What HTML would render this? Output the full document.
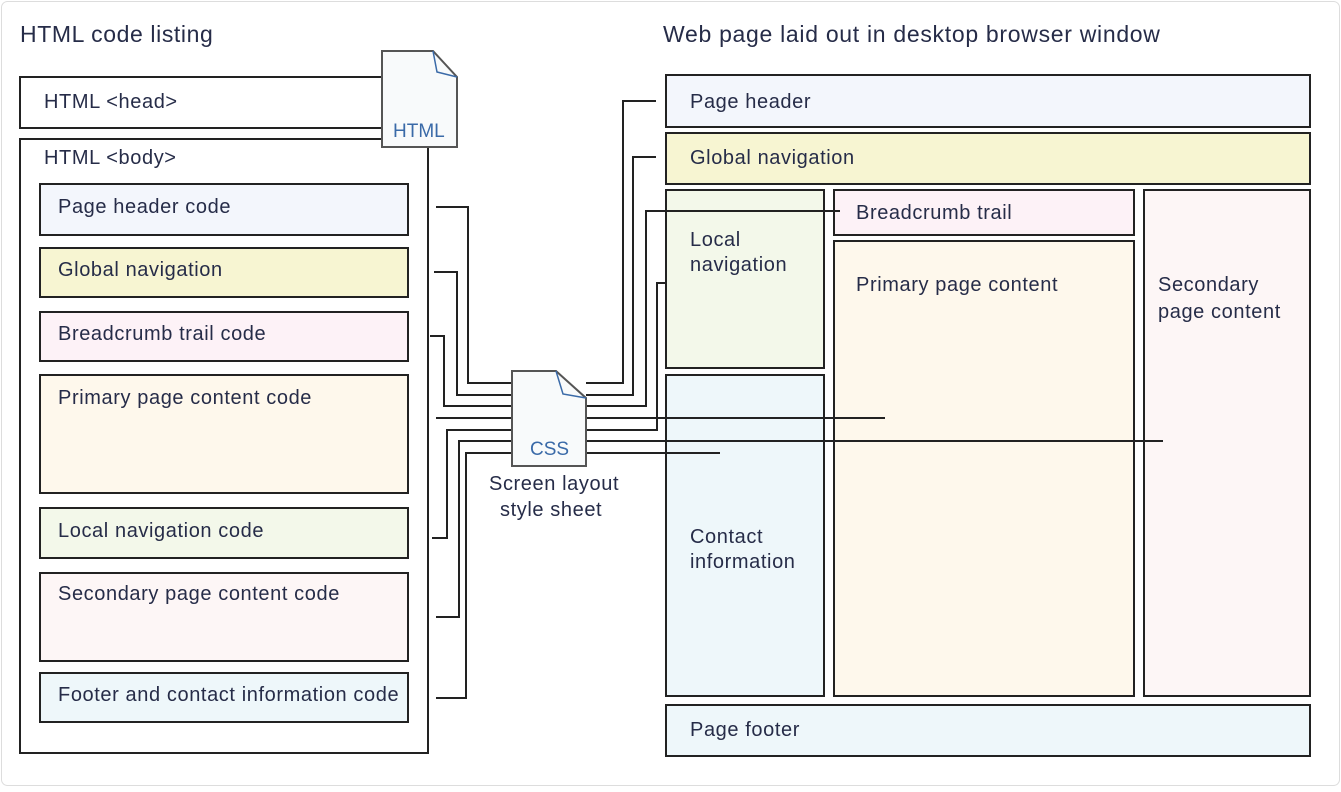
<!DOCTYPE html>
<html><head><meta charset="utf-8"><style>
body{margin:0;background:#fff}
svg text{font-family:"Liberation Sans",sans-serif;font-size:20px;letter-spacing:0.6px;fill:#262c48}
</style></head><body>
<svg width="1341" height="787" viewBox="0 0 1341 787" xmlns="http://www.w3.org/2000/svg">
<rect x="1.5" y="1.5" width="1338" height="784" rx="6" fill="#fff" stroke="#ddd"/>
<text x="20" y="42" style="font-size:23px;letter-spacing:0.6px">HTML code listing</text>
<text x="663" y="42" style="font-size:23px;letter-spacing:0.7px">Web page laid out in desktop browser window</text>
<g stroke="#222" stroke-width="2">
<rect x="20" y="77" width="380" height="51" fill="#fff"/>
<rect x="20" y="139" width="408" height="614" fill="#fff"/>
<rect x="40" y="184" width="368" height="51" fill="#f3f6fc"/>
<rect x="40" y="248" width="368" height="49" fill="#f7f5d2"/>
<rect x="40" y="312" width="368" height="49" fill="#fdf2f7"/>
<rect x="40" y="375" width="368" height="118" fill="#fef8ec"/>
<rect x="40" y="508" width="368" height="50" fill="#f3f8ea"/>
<rect x="40" y="573" width="368" height="88" fill="#fdf6f6"/>
<rect x="40" y="673" width="368" height="49" fill="#eef7fa"/>
<rect x="666" y="75" width="644" height="52" fill="#f3f6fc"/>
<rect x="666" y="133" width="644" height="51" fill="#f7f5d2"/>
<rect x="666" y="190" width="158" height="178" fill="#f3f8ea"/>
<rect x="666" y="375" width="158" height="321" fill="#eef7fa"/>
<rect x="834" y="190" width="300" height="45" fill="#fdf2f7"/>
<rect x="834" y="241" width="300" height="455" fill="#fef8ec"/>
<rect x="1144" y="190" width="166" height="506" fill="#fdf6f6"/>
<rect x="666" y="705" width="644" height="51" fill="#eef7fa"/>
</g>
<g fill="none" stroke="#222" stroke-width="2">
<polyline points="436,207 468,207 468,383 512,383"/>
<polyline points="434,272 457,272 457,395 512,395"/>
<polyline points="430,336 444,336 444,406 512,406"/>
<polyline points="436,418 512,418"/>
<polyline points="432,538 447,538 447,430 512,430"/>
<polyline points="436,617 459,617 459,441 512,441"/>
<polyline points="436,698 466,698 466,453 512,453"/>
<polyline points="586,383 623,383 623,101 656,101"/>
<polyline points="586,395 633,395 633,157 656,157"/>
<polyline points="586,406 646,406 646,211 840,211"/>
<polyline points="586,418 885,418"/>
<polyline points="586,430 657,430 657,283 666,283"/>
<polyline points="586,441 1163,441"/>
<polyline points="586,453 720,453"/>
</g>
<g>
<path d="M382,51 L433,51 L457,77 L457,147 L382,147 Z" fill="#f8fafb" stroke="#555" stroke-width="2"/>
<path d="M433,51 L437,72 L457,77" fill="none" stroke="#3a6aa8" stroke-width="1.5"/>
<text x="393" y="137" style="font-size:19px;letter-spacing:0;fill:#3a6aa8">HTML</text>
<path d="M512,371 L556,371 L586,398 L586,466 L512,466 Z" fill="#f8fafb" stroke="#555" stroke-width="2"/>
<path d="M556,371 L563,394 L586,398" fill="none" stroke="#3a6aa8" stroke-width="1.5"/>
<text x="530" y="455" style="font-size:19px;letter-spacing:0;fill:#3a6aa8">CSS</text>
</g>
<text x="44" y="108">HTML &lt;head&gt;</text>
<text x="44" y="164">HTML &lt;body&gt;</text>
<text x="58" y="213">Page header code</text>
<text x="58" y="276">Global navigation</text>
<text x="58" y="340">Breadcrumb trail code</text>
<text x="58" y="404">Primary page content code</text>
<text x="58" y="537">Local navigation code</text>
<text x="58" y="600">Secondary page content code</text>
<text x="58" y="701">Footer and contact information code</text>
<text x="489" y="490">Screen layout</text>
<text x="500" y="516">style sheet</text>
<text x="690" y="108">Page header</text>
<text x="690" y="164">Global navigation</text>
<text x="690" y="246">Local</text>
<text x="690" y="271">navigation</text>
<text x="856" y="219">Breadcrumb trail</text>
<text x="856" y="291">Primary page content</text>
<text x="1158" y="291">Secondary</text>
<text x="1158" y="318">page content</text>
<text x="690" y="543">Contact</text>
<text x="690" y="568">information</text>
<text x="690" y="736">Page footer</text>
</svg>
</body></html>
